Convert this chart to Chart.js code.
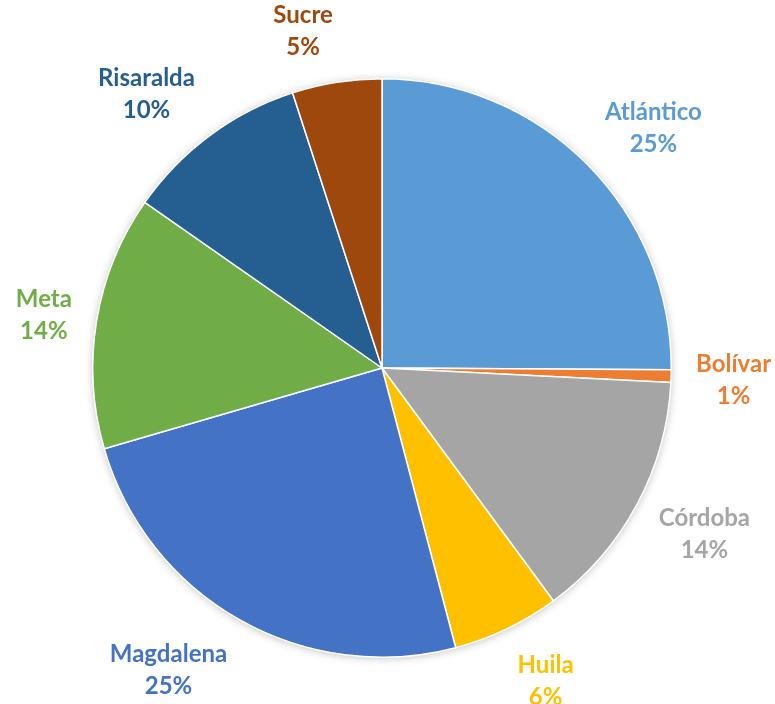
<!DOCTYPE html>
<html>
<head>
<meta charset="utf-8">
<script src="https://cdn.jsdelivr.net/npm/chart.js@4/dist/chart.umd.min.js"></script>
<style>
html,body{margin:0;padding:0;background:#fff;}
#wrap{width:775px;height:704px;position:relative;}
</style>
</head>
<body>
<div id="wrap"><canvas id="c" width="775" height="704"></canvas></div>
<script>
const categories = ["Atlántico", "Bolívar", "Córdoba", "Huila", "Magdalena", "Meta", "Risaralda", "Sucre"];
const values = [25.1, 0.7, 14.1, 6.0, 24.6, 14.2, 10.3, 5.0];
const colors = ["#5B9BD5", "#ED7D31", "#A5A5A5", "#FFC000", "#4472C4", "#70AD47", "#255E91", "#9E480E"];

const total = values.reduce((a, b) => a + b, 0);
const FONT = "bold 24px Lato, 'Open Sans', sans-serif";
const LINE_H = 32;

const shadowPlugin = {
  id: 'shadow',
  beforeDatasetsDraw(chart) {
    const meta = chart.getDatasetMeta(0);
    const arc = meta.data[0];
    if (!arc) return;
    const ctx = chart.ctx;
    ctx.save();
    ctx.shadowColor = 'rgba(0,0,0,0.25)';
    ctx.shadowBlur = 8;
    ctx.shadowOffsetY = 1;
    ctx.fillStyle = '#fff';
    ctx.beginPath();
    ctx.arc(arc.x, arc.y, arc.outerRadius, 0, Math.PI * 2);
    ctx.fill();
    ctx.restore();
  }
};

const labelPlugin = {
  id: 'outLabels',
  afterDatasetsDraw(chart) {
    const ctx = chart.ctx;
    const meta = chart.getDatasetMeta(0);
    ctx.save();
    ctx.font = FONT;
    ctx.textAlign = 'center';
    ctx.textBaseline = 'middle';
    meta.data.forEach((arc, i) => {
      const mid = (arc.startAngle + arc.endAngle) / 2;
      const dx = Math.cos(mid), dy = Math.sin(mid);
      const l1 = categories[i];
      const l2 = Math.round(values[i] / total * 100) + '%';
      const w = Math.max(ctx.measureText(l1).width, ctx.measureText(l2).width);
      const A = arc.outerRadius + 25;
      const cx = arc.x + dx * A + Math.sign(dx) * w / 2;
      const cy = arc.y + dy * (A + 30) + 3;
      ctx.fillStyle = colors[i];
      ctx.fillText(l1, cx, cy - LINE_H / 2);
      ctx.fillText(l2, cx, cy + LINE_H / 2);
    });
    ctx.restore();
  }
};

new Chart(document.getElementById('c'), {
  type: 'pie',
  data: {
    labels: categories,
    datasets: [{
      data: values,
      backgroundColor: colors,
      borderColor: '#ffffff',
      borderWidth: 1.5
    }]
  },
  options: {
    responsive: false,
    animation: false,
    layout: { padding: { left: 92, right: 103, top: 78, bottom: 46 } },
    plugins: { legend: { display: false }, tooltip: { enabled: false } }
  },
  plugins: [shadowPlugin, labelPlugin]
});
</script>
</body>
</html>
